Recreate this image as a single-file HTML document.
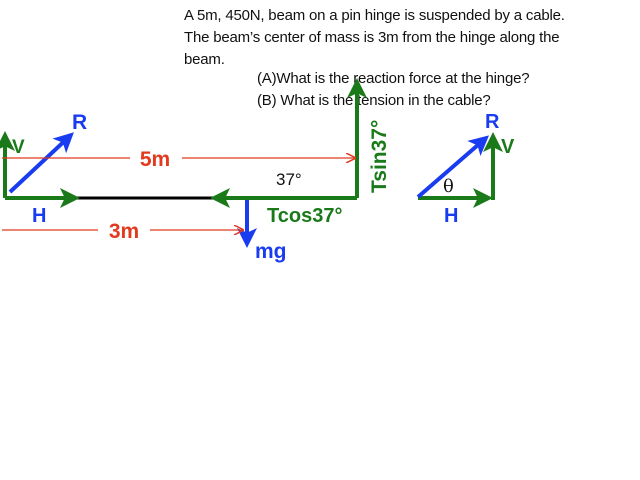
<!DOCTYPE html>
<html><head><style>
html,body{margin:0;padding:0;background:#fff;width:640px;height:480px;overflow:hidden}
.t{position:absolute;font-family:"Liberation Sans",sans-serif;font-size:15px;color:#111;line-height:22px;white-space:nowrap;letter-spacing:-0.2px}
</style></head><body>
<div class="t" style="left:184px;top:5px">A 5m, 450N, beam on a pin hinge is suspended by a cable.<br>The beam’s center of mass is 3m from the hinge along the<br>beam.</div>
<div class="t" style="left:257px;top:68px">(A)What is the reaction force at the hinge?<br>(B) What is the tension in the cable?</div>
<svg width="640" height="480" style="position:absolute;left:0;top:0" font-family="Liberation Sans, sans-serif" font-weight="bold">
<defs>
<marker id="g" markerWidth="5" markerHeight="5" refX="4" refY="2.5" orient="auto" markerUnits="strokeWidth"><path d="M0,0 L5,2.5 L0,5 L1.2,2.5z" fill="#1a7a1a"/></marker>
<marker id="b" markerWidth="5" markerHeight="5" refX="4" refY="2.5" orient="auto" markerUnits="strokeWidth"><path d="M0,0 L5,2.5 L0,5 L1.2,2.5z" fill="#1a3cf0"/></marker>
<marker id="r" markerWidth="10" markerHeight="10" refX="9" refY="5" orient="auto" markerUnits="userSpaceOnUse"><path d="M0,0 L10,5 L0,10" fill="none" stroke="#e23a1e" stroke-width="1.5"/></marker>
</defs>
<line x1="5" y1="198" x2="357" y2="198" stroke="#000" stroke-width="3"/>
<line x1="5" y1="198" x2="76" y2="198" stroke="#1a7a1a" stroke-width="4" marker-end="url(#g)"/>
<line x1="357" y1="198" x2="214" y2="198" stroke="#1a7a1a" stroke-width="4" marker-end="url(#g)"/>
<line x1="357" y1="198" x2="357" y2="82" stroke="#1a7a1a" stroke-width="4" marker-end="url(#g)"/>
<line x1="5" y1="198" x2="5" y2="135" stroke="#1a7a1a" stroke-width="4" marker-end="url(#g)"/>
<line x1="10" y1="192" x2="71" y2="135" stroke="#1a3cf0" stroke-width="4" marker-end="url(#b)"/>
<line x1="247" y1="200" x2="247" y2="244" stroke="#1a3cf0" stroke-width="4" marker-end="url(#b)"/>
<line x1="2" y1="158" x2="130" y2="158" stroke="#e23a1e" stroke-width="1.3"/>
<line x1="182" y1="158" x2="355" y2="158" stroke="#e23a1e" stroke-width="1.3" marker-end="url(#r)"/>
<line x1="2" y1="230" x2="98" y2="230" stroke="#e23a1e" stroke-width="1.3"/>
<line x1="150" y1="230" x2="243" y2="230" stroke="#e23a1e" stroke-width="1.3" marker-end="url(#r)"/>
<text x="155" y="166" font-size="21" fill="#e23a1e" text-anchor="middle">5m</text>
<text x="124" y="238" font-size="21" fill="#e23a1e" text-anchor="middle">3m</text>
<text x="276" y="185" font-size="17" font-weight="normal" fill="#111">37°</text>
<text x="12" y="153" font-size="19" fill="#1a7a1a">V</text>
<text x="72" y="129" font-size="21" fill="#1a3cf0">R</text>
<text x="32" y="222" font-size="20" fill="#1a3cf0">H</text>
<text x="255" y="258" font-size="21" fill="#1a3cf0">mg</text>
<text x="267" y="222" font-size="20" fill="#1a7a1a">Tcos37°</text>
<text transform="translate(386,193) rotate(-90)" font-size="21" fill="#1a7a1a">Tsin37°</text>
<line x1="418" y1="198" x2="489" y2="198" stroke="#1a7a1a" stroke-width="4" marker-end="url(#g)"/>
<line x1="493" y1="200" x2="493" y2="136" stroke="#1a7a1a" stroke-width="4" marker-end="url(#g)"/>
<line x1="418" y1="197" x2="486" y2="138" stroke="#1a3cf0" stroke-width="4" marker-end="url(#b)"/>
<text x="485" y="128" font-size="20" fill="#1a3cf0">R</text>
<text x="501" y="153" font-size="20" fill="#1a7a1a">V</text>
<text x="444" y="222" font-size="20" fill="#1a3cf0">H</text>
<text x="443" y="192" font-size="18" font-weight="normal" fill="#111" font-family="DejaVu Serif, serif">θ</text>
</svg>
</body></html>
